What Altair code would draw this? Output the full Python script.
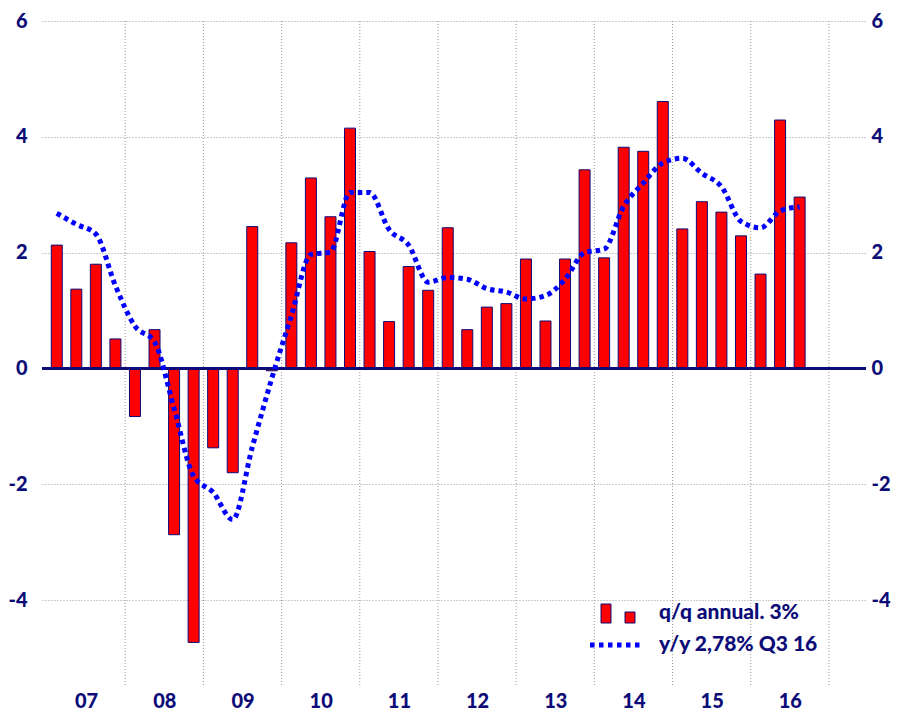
import altair as alt
import pandas as pd

# ---- data ----
years = [2007, 2008, 2009, 2010, 2011, 2012, 2013, 2014, 2015, 2016]
qq_annual = [
    2.13, 1.37, 1.80, 0.51,     # 07
    -0.83, 0.67, -2.87, -4.73,  # 08
    -1.37, -1.80, 2.45, -0.04,  # 09
    2.17, 3.29, 2.62, 4.15,     # 10
    2.02, 0.81, 1.76, 1.35,     # 11
    2.43, 0.67, 1.06, 1.12,     # 12
    1.89, 0.82, 1.89, 3.43,     # 13
    1.91, 3.82, 3.75, 4.61,     # 14
    2.41, 2.88, 2.70, 2.29,     # 15
    1.63, 4.29, 2.96,           # 16
]
yy = [
    2.68, 2.49, 2.32, 1.43,
    0.73, 0.46, -0.69, -1.86,
    -2.14, -2.61, -1.36, -0.17,
    0.91, 1.97, 2.01, 3.04,
    3.04, 2.40, 2.13, 1.49,
    1.57, 1.54, 1.38, 1.32,
    1.20, 1.26, 1.54, 2.00,
    2.06, 2.80, 3.20, 3.55,
    3.63, 3.37, 3.14, 2.54,
    2.43, 2.72, 2.79,
]
grid_years = [2008, 2009, 2010, 2011, 2012, 2013, 2014, 2015, 2016, 2017]
y_ticks = [-4, -2, 0, 2, 4, 6]
legend_labels = ["q/q annual. 3%", "y/y 2,78% Q3 16"]

n = len(qq_annual)
t = [years[0] + (i + 0.5) / 4 for i in range(n)]
df = pd.DataFrame({"t": t, "qq": qq_annual, "yy": yy})
grid_df = pd.DataFrame({"yr": grid_years})

W, H = 824, 666
NAVY = "#0c0c78"
FONT = "Lato"
FS = 20
FS_LEG = 21
X_DOM = [2007.0, 2017.41]
Y_DOM = [-5.5, 6]

def xenc(field):
    return alt.X(
        field, type="quantitative",
        scale=alt.Scale(domain=X_DOM, nice=False, zero=False),
        axis=alt.Axis(
            values=[y + 0.5 for y in years],
            labelExpr="substring(toString(floor(datum.value)), 2, 4)",
            grid=False, domain=False, ticks=False, labelPadding=4,
            labelFont=FONT, labelFontSize=FS, labelFontWeight=900,
            labelColor=NAVY, title=None,
        ),
    )

def yscale():
    return alt.Scale(domain=Y_DOM, nice=False, zero=False)

left_axis = alt.Axis(
    values=y_ticks, grid=True, gridDash=[1, 2], gridColor="#9a9a9a",
    gridWidth=1, domain=False, ticks=False, labelPadding=15,
    labelExpr="toString(datum.value)",
    labelFont=FONT, labelFontSize=FS, labelFontWeight=900,
    labelColor=NAVY, title=None, orient="left",
)
right_axis = alt.Axis(
    values=y_ticks, grid=False, domain=False, ticks=False, labelPadding=5,
    labelExpr="toString(datum.value)",
    labelFont=FONT, labelFontSize=FS, labelFontWeight=900,
    labelColor=NAVY, title=None, orient="right",
)

vgrid = alt.Chart(grid_df).mark_rule(
    color="#9a9a9a", strokeDash=[1, 2], strokeWidth=1
).encode(x=xenc("yr"), y=alt.value(0), y2=alt.value(H))

bars = alt.Chart(df).mark_bar(
    size=11, color="#ff0000", stroke=NAVY, strokeWidth=1
).encode(
    x=xenc("t"),
    y=alt.Y("qq:Q", scale=yscale(), axis=left_axis),
    y2=alt.datum(0),
)

zero = alt.Chart(df).mark_rule(color=NAVY, strokeWidth=1.6).encode(
    y=alt.Y("z:Q", scale=yscale(), axis=None)
).transform_calculate(z="0")

line = alt.Chart(df).mark_line(
    color="#0000ff", strokeWidth=5, strokeDash=[4.5, 4], interpolate="monotone",
    strokeCap="butt",
).encode(
    x=xenc("t"),
    y=alt.Y("yy:Q", scale=yscale(), axis=right_axis),
)

one = pd.DataFrame({"label": [legend_labels[0]]})
two = pd.DataFrame({"label": [legend_labels[1]]})

leg_r1 = alt.Chart(one).mark_rect(color="#ff0000", stroke=NAVY, strokeWidth=1).encode(
    x=alt.value(559), x2=alt.value(569), y=alt.value(583), y2=alt.value(602))
leg_r2 = alt.Chart(one).mark_rect(color="#ff0000", stroke=NAVY, strokeWidth=1).encode(
    x=alt.value(583), x2=alt.value(593), y=alt.value(591), y2=alt.value(602))
leg_t1 = alt.Chart(one).mark_text(
    align="left", baseline="middle", font=FONT, fontSize=FS_LEG, fontWeight=900, color=NAVY
).encode(x=alt.value(617), y=alt.value(592), text="label:N")
leg_line = alt.Chart(two).mark_rule(
    color="#0000ff", strokeWidth=5, strokeDash=[4.5, 4.5], strokeCap="butt"
).encode(x=alt.value(548), x2=alt.value(601), y=alt.value(624))
leg_t2 = alt.Chart(two).mark_text(
    align="left", baseline="middle", font=FONT, fontSize=FS_LEG, fontWeight=900, color=NAVY
).encode(x=alt.value(617), y=alt.value(624), text="label:N")

chart = alt.layer(
    vgrid, bars, zero, line, leg_r1, leg_r2, leg_t1, leg_line, leg_t2
).resolve_scale(y="independent").properties(
    width=W, height=H,
    autosize=alt.AutoSizeParams(type="none"),
    padding={"left": 34, "top": 13, "right": 26, "bottom": 23},
).configure_view(strokeWidth=0)

chart.save("out.html", embed_options={"renderer": "svg", "actions": False})
